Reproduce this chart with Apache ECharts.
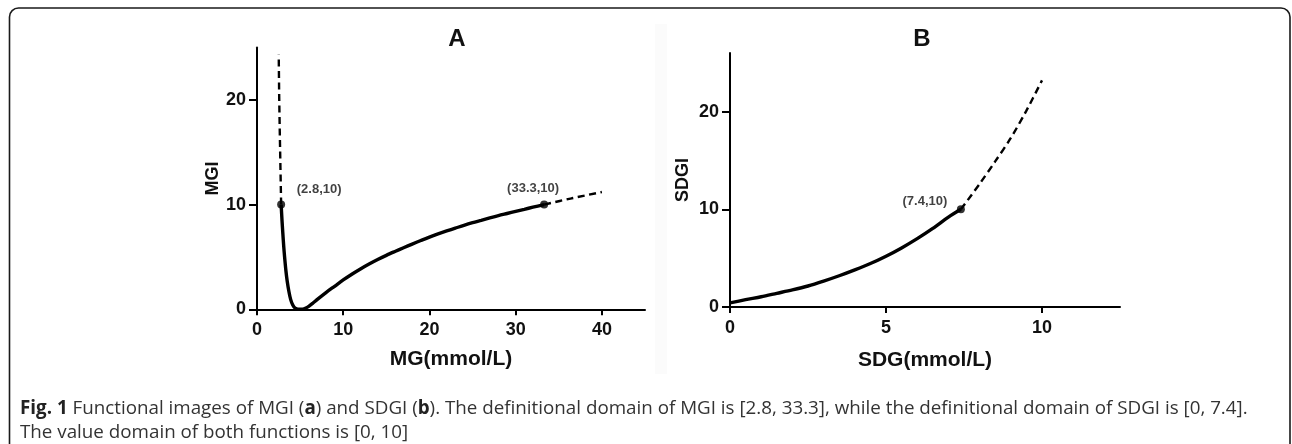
<!DOCTYPE html>
<html>
<head>
<meta charset="utf-8">
<script src="https://cdn.jsdelivr.net/npm/echarts@6/dist/echarts.min.js"></script>
<style>html,body{margin:0;padding:0;background:#fff}#c{width:1292px;height:444px}</style>
</head>
<body>
<div id="c"></div>
<script>
// Panel A: MGI vs MG (mmol/L)
const mgSolidX = [2.8, 2.9, 3.0, 3.1, 3.2, 3.35, 3.5, 3.7, 3.9, 4.15, 4.4, 4.7, 5.0, 5.3, 5.6, 6.0, 6.5, 7, 8, 9, 10, 11, 12, 13, 14, 15, 16, 17, 18, 19, 20, 21, 22, 23, 24, 25, 26, 27, 28, 29, 30, 31, 32, 33.3];
const mgSolidY = [10, 8.5, 7.2, 6.0, 5.0, 3.7, 2.7, 1.7, 0.95, 0.4, 0.12, 0.02, 0, 0.02, 0.1, 0.28, 0.6, 0.95, 1.6, 2.2, 2.8, 3.35, 3.85, 4.32, 4.75, 5.15, 5.52, 5.88, 6.23, 6.57, 6.9, 7.2, 7.48, 7.75, 8.02, 8.27, 8.5, 8.73, 8.95, 9.15, 9.35, 9.55, 9.75, 10];
const mgDashUpX = [2.8, 2.72, 2.64, 2.57, 2.52];
const mgDashUpY = [10, 13.5, 17, 20.5, 24.3];
const mgDashRightX = [33.3, 36.5, 40];
const mgDashRightY = [10, 10.6, 11.2];
const mgPoints = [[2.8, 10], [33.3, 10]];

// Panel B: SDGI vs SDG (mmol/L)
const sdgSolidX = [0, 0.5, 1.0, 1.5, 2.0, 2.5, 3.0, 3.5, 4.0, 4.5, 5.0, 5.5, 6.0, 6.5, 7.0, 7.4];
const sdgSolidY = [0.42, 0.75, 1.05, 1.4, 1.75, 2.15, 2.65, 3.2, 3.8, 4.45, 5.2, 6.05, 7.0, 8.05, 9.2, 10];
const sdgDashX = [7.4, 8.0, 8.5, 9.0, 9.5, 10];
const sdgDashY = [10, 12.6, 14.9, 17.3, 20.1, 23.2];
const sdgPoints = [[7.4, 10]];

// Axis ticks
const mgTicks = {xMin: 0, xMax: 45, xStep: 10, yMin: 0, yMax: 25, yStep: 10};
const sdgTicks = {xMin: 0, xMax: 12.5, xStep: 5, yMin: 0, yMax: 26, yStep: 10};

const zip = (xs, ys) => xs.map((x, i) => [x, ys[i]]);

const chart = echarts.init(document.getElementById('c'), null, {renderer: 'canvas'});

const FF = '"Liberation Sans", Arial, sans-serif';
const tickFont = {fontFamily: FF, fontWeight: 'bold', fontSize: 18, color: '#111'};
const axisLine = {show: true, onZero: false, lineStyle: {color: '#000', width: 2}};

function xAx(idx, t, name, gap) {
  return {
    type: 'value', gridIndex: idx, min: t.xMin, max: t.xMax, interval: t.xStep,
    name: name, nameLocation: 'middle', nameGap: gap,
    nameTextStyle: {fontFamily: FF, fontWeight: 'bold', fontSize: 21, color: '#111'},
    axisLine: axisLine, axisTick: {show: true, inside: false, length: 6, lineStyle: {color: '#000', width: 2}},
    splitLine: {show: false},
    axisLabel: Object.assign({margin: 12, showMaxLabel: false}, tickFont)
  };
}
function yAx(idx, t, name, gap) {
  return {
    type: 'value', gridIndex: idx, min: t.yMin, max: t.yMax, interval: t.yStep,
    name: name, nameLocation: 'middle', nameGap: gap, nameRotate: 90,
    nameTextStyle: {fontFamily: FF, fontWeight: 'bold', fontSize: 18, color: '#111'},
    axisLine: axisLine, axisTick: {show: true, inside: false, length: 8, lineStyle: {color: '#000', width: 2}},
    splitLine: {show: false},
    axisLabel: Object.assign({margin: 11, showMaxLabel: false}, tickFont)
  };
}

const solid = {color: '#000', width: 3.4};
const dashed = {color: '#000', width: 2.4, type: [7, 4.5]};

function ptLabel(offset) {
  return {
    show: true, offset: offset, position: 'inside',
    formatter: p => '(' + p.value[0] + ',' + p.value[1] + ')',
    fontFamily: FF, fontWeight: 'bold', fontSize: 13, color: '#111'
  };
}

const option = {
  animation: false,
  backgroundColor: '#fff',
  title: [
    {text: 'A', left: 452, top: 22, textAlign: 'center', textStyle: {fontFamily: FF, fontWeight: 'bold', fontSize: 24, color: '#111'}},
    {text: 'B', left: 917, top: 22, textAlign: 'center', textStyle: {fontFamily: FF, fontWeight: 'bold', fontSize: 24, color: '#111'}}
  ],
  grid: [
    {left: 257, top: 47.5, width: 388, height: 261.8, containLabel: false},
    {left: 730, top: 53, width: 390, height: 254, containLabel: false}
  ],
  xAxis: [xAx(0, mgTicks, 'MG(mmol/L)', 39), xAx(1, sdgTicks, 'SDG(mmol/L)', 43)],
  yAxis: [yAx(0, mgTicks, 'MGI', 29), yAx(1, sdgTicks, 'SDGI', 38)],
  series: [
    {type: 'line', xAxisIndex: 0, yAxisIndex: 0, data: zip(mgSolidX, mgSolidY), showSymbol: false, smooth: 0.3, lineStyle: solid, z: 3},
    {type: 'line', xAxisIndex: 0, yAxisIndex: 0, data: zip(mgDashUpX, mgDashUpY), showSymbol: false, lineStyle: dashed, z: 2},
    {type: 'line', xAxisIndex: 0, yAxisIndex: 0, data: zip(mgDashRightX, mgDashRightY), showSymbol: false, smooth: 0.3, lineStyle: dashed, z: 2},
    {type: 'scatter', xAxisIndex: 0, yAxisIndex: 0, symbolSize: 8, itemStyle: {color: '#000'}, z: 4,
      data: [
        {value: mgPoints[0], label: ptLabel([38, -15])},
        {value: mgPoints[1], label: ptLabel([-11, -16])}
      ]},
    {type: 'line', xAxisIndex: 1, yAxisIndex: 1, data: zip(sdgSolidX, sdgSolidY), showSymbol: false, smooth: 0.3, lineStyle: solid, z: 3},
    {type: 'line', xAxisIndex: 1, yAxisIndex: 1, data: zip(sdgDashX, sdgDashY), showSymbol: false, smooth: 0.3, lineStyle: dashed, z: 2},
    {type: 'scatter', xAxisIndex: 1, yAxisIndex: 1, symbolSize: 8, itemStyle: {color: '#000'}, z: 4,
      data: [
        {value: sdgPoints[0], label: ptLabel([-36, -8])}
      ]}
  ],
  graphic: [
    {type: 'rect', z: -10, shape: {x: 655, y: 24, width: 12, height: 350}, style: {fill: '#fbfbfb'}, silent: true},
    {type: 'rect', z: 100, shape: {x: 9.5, y: 8, width: 1280.5, height: 470, r: 9}, style: {fill: 'none', stroke: '#1a1a1a', lineWidth: 1.6}, silent: true},
    {type: 'text', z: 100, left: 20, top: 399, style: {
      text: '{b|Fig. 1} Functional images of MGI ({b|a}) and SDGI ({b|b}). The definitional domain of MGI is [2.8, 33.3], while the definitional domain of SDGI is [0, 7.4].',
      font: '18.8px "Open Sans", sans-serif', fill: '#333',
      rich: {b: {font: 'bold 18.8px "Open Sans", sans-serif', fill: '#222'}}
    }},
    {type: 'text', z: 100, left: 20, top: 423, style: {
      text: 'The value domain of both functions is [0, 10]',
      font: '18.8px "Open Sans", sans-serif', fill: '#333'
    }}
  ]
};
chart.setOption(option);
</script>
</body>
</html>
